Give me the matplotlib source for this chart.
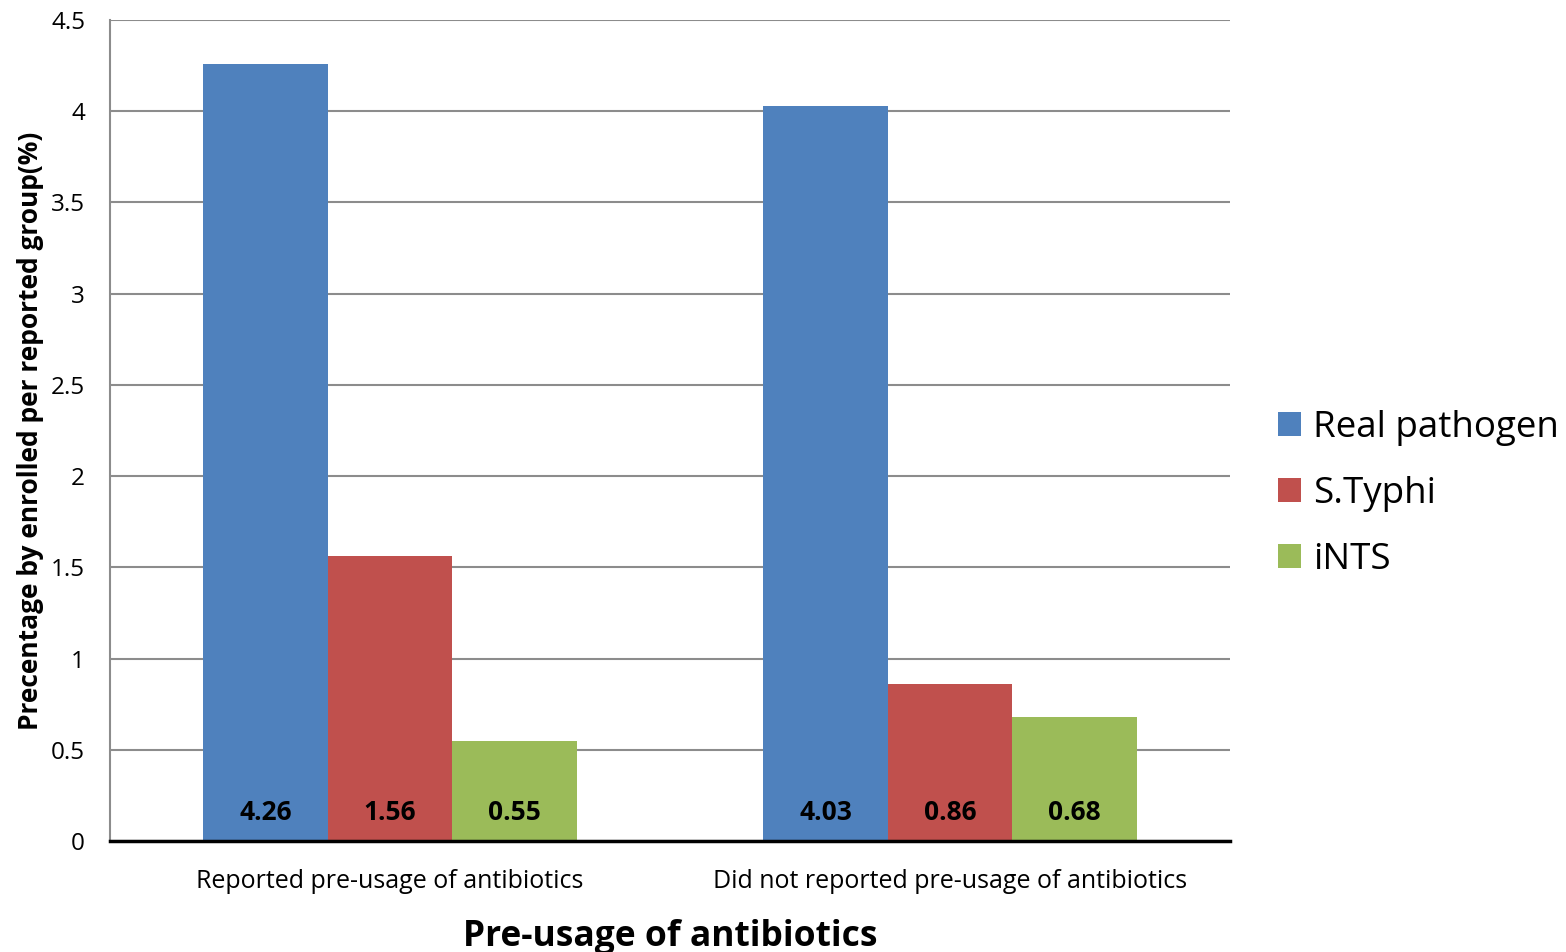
import numpy as np
import matplotlib.pyplot as plt

plt.rcParams['font.family'] = ['Open Sans', 'DejaVu Sans']

categories = ['Reported pre-usage of antibiotics', 'Did not reported pre-usage of antibiotics']
series_names = ['Real pathogen', 'S.Typhi', 'iNTS']
real_pathogen = [4.26, 4.03]
s_typhi = [1.56, 0.86]
ints = [0.55, 0.68]
y_ticks = [0, 0.5, 1, 1.5, 2, 2.5, 3, 3.5, 4, 4.5]

colors = ['#4F81BD', '#C0504D', '#9BBB59']

fig = plt.figure(figsize=(15.66, 9.52), dpi=100)
ax = fig.add_axes([110 / 1566, 1 - 841 / 952, 1120 / 1566, 821 / 952])

x = np.arange(len(categories))
width = 0.2222
for i, (vals, name) in enumerate(zip([real_pathogen, s_typhi, ints], series_names)):
    pos = x + (i - 1) * width
    ax.bar(pos, vals, width, color=colors[i], label=name, zorder=2)
    for p, v in zip(pos, vals):
        ax.text(p, 0.155, f'{v:.2f}', ha='center', va='center',
                fontsize=19, fontweight='bold', color='black', zorder=3)

ax.set_xlim(-0.5, 1.5)
ax.set_ylim(0, 4.5)
ax.set_yticks(y_ticks)
ax.set_yticklabels([f'{t:g}' for t in y_ticks], fontsize=17.5)
ax.set_xticks(x)
ax.set_xticklabels(categories, fontsize=18)
ax.tick_params(axis='x', length=0, pad=20)
ax.tick_params(axis='y', length=0, pad=18)

ax.grid(axis='y', color='#8C8C8C', linewidth=1.5, zorder=0)
ax.set_axisbelow(True)
for s in ['top', 'right']:
    ax.spines[s].set_visible(False)
ax.spines['left'].set_color('#8C8C8C')
ax.spines['left'].set_linewidth(1.5)
ax.spines['bottom'].set_color('black')
ax.spines['bottom'].set_linewidth(2.5)
ax.spines['bottom'].set_zorder(4)

ax.set_ylabel('Precentage by enrolled per reported group(%)', fontsize=19,
              fontweight='bold', labelpad=5)
ax.set_xlabel('Pre-usage of antibiotics', fontsize=25.5, fontweight='bold', labelpad=18)

fig.legend(loc='center left', bbox_to_anchor=(1278 / 1566, 1 - 494 / 952),
           frameon=False, fontsize=26.5, handlelength=0.62, handleheight=0.62,
           handletextpad=0.33, labelspacing=0.82, borderaxespad=0, borderpad=0)

fig.savefig('out.png', dpi=100)
